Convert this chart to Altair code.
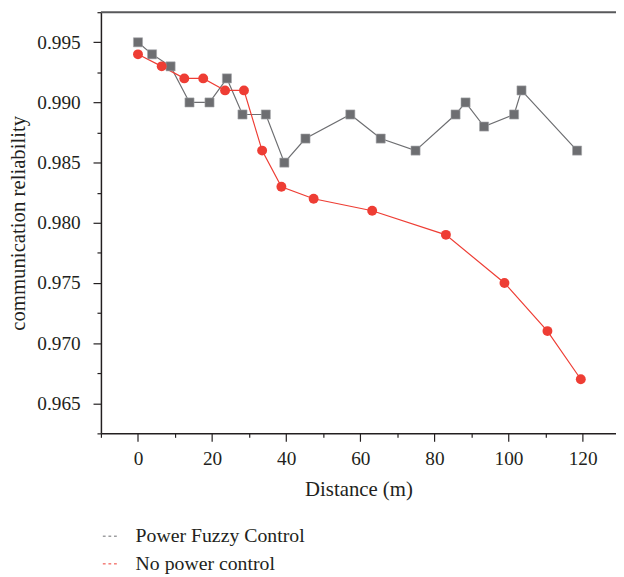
import altair as alt
import pandas as pd

# Power Fuzzy Control (gray squares)
fuzzy_x = [0, 3.8, 8.8, 13.9, 19.3, 24.0, 28.2, 34.5, 39.5, 45.2, 57.3, 65.5, 74.9, 85.7, 88.4, 93.4, 101.5, 103.5, 118.5]
fuzzy_y = [0.995, 0.994, 0.993, 0.990, 0.990, 0.992, 0.989, 0.989, 0.985, 0.987, 0.989, 0.987, 0.986, 0.989, 0.990, 0.988, 0.989, 0.991, 0.986]

# No power control (red circles)
nopc_x = [0, 6.4, 12.5, 17.6, 23.5, 28.6, 33.5, 38.7, 47.4, 63.2, 83.1, 98.9, 110.5, 119.5]
nopc_y = [0.994, 0.993, 0.992, 0.992, 0.991, 0.991, 0.986, 0.983, 0.982, 0.981, 0.979, 0.975, 0.971, 0.967]

series_names = ["Power Fuzzy Control", "No power control"]
series_colors = ["#6d6e71", "#ee3d34"]

x_ticks = [-10, 0, 10, 20, 30, 40, 50, 60, 70, 80, 90, 100, 110, 120]
y_ticks = [0.9625, 0.965, 0.9675, 0.97, 0.9725, 0.975, 0.9775, 0.98, 0.9825,
           0.985, 0.9875, 0.99, 0.9925, 0.995, 0.9975]
y_major = [0.965, 0.97, 0.975, 0.98, 0.985, 0.99, 0.995]

df_f = pd.DataFrame({"x": fuzzy_x, "y": fuzzy_y, "s": series_names[0]})
df_n = pd.DataFrame({"x": nopc_x, "y": nopc_y, "s": series_names[1]})
df_all = pd.concat([df_f, df_n], ignore_index=True)

FONT = "Liberation Serif"
AX = "#231f20"

ymajor_test = "indexof([" + ",".join(str(v) for v in y_major) + "], datum.value) >= 0"

xscale = alt.Scale(domain=[-10, 129], nice=False, zero=False)
yscale = alt.Scale(domain=[0.9625, 0.9975], nice=False, zero=False)

xenc = alt.X("x:Q", scale=xscale, title="Distance (m)",
             axis=alt.Axis(values=x_ticks, tickCount=30,
                           labelExpr="datum.value % 20 === 0 ? datum.label : ''",
                           tickSize={"condition": {"test": "datum.value % 20 === 0", "value": 8}, "value": 4},
                           labelPadding=9, titlePadding=10, grid=False))
yenc = alt.Y("y:Q", scale=yscale, title="communication reliability",
             axis=alt.Axis(values=y_ticks, tickCount=30,
                           labelExpr=ymajor_test + " ? format(datum.value, '.3f') : ''",
                           tickSize={"condition": {"test": ymajor_test, "value": 8}, "value": 4},
                           labelPadding=13, titlePadding=8, grid=False))

color = alt.Color("s:N", scale=alt.Scale(domain=series_names, range=series_colors),
                  sort=series_names,
                  legend=alt.Legend(title=None, orient="none", legendX=-1, legendY=520,
                                    direction="vertical",
                                    symbolType="M-1,0L-0.6,0M-0.2,0L0.2,0M0.6,0L1,0",
                                    symbolSize=200, symbolStrokeWidth=1,
                                    labelFont=FONT, labelFontSize=20, labelColor=AX,
                                    labelLimit=0,
                                    labelOffset=16, rowPadding=8, padding=0))

lines = alt.Chart(df_all).mark_line(strokeWidth=1.2).encode(
    x=xenc, y=yenc, color=color, detail="s:N")

sq = alt.Chart(df_f).mark_point(shape="square", filled=True, size=85, opacity=1,
                                color=series_colors[0], stroke="#a7a9ac", strokeWidth=0.6).encode(
    x="x:Q", y="y:Q")
ci = alt.Chart(df_n).mark_point(shape="circle", filled=True, size=100, opacity=1,
                                color=series_colors[1]).encode(
    x="x:Q", y="y:Q")

top = alt.Chart(pd.DataFrame({"a": [0]})).mark_rule(color="#58595b", strokeWidth=2).encode(
    x=alt.value(0), x2=alt.value("width"), y=alt.value(0))

chart = alt.layer(lines, sq, ci, top).properties(
    width=521, height=426,
    autosize=alt.AutoSizeParams(type="none"),
    padding={"left": 94, "top": 1, "right": 0, "bottom": 140},
).configure_view(stroke=None).configure_axis(
    domainColor=AX, domainWidth=1.5, tickColor=AX, tickWidth=1.2,
    labelFont=FONT, labelFontSize=19.5, labelColor=AX,
    titleFont=FONT, titleFontSize=21, titleColor=AX, titleFontWeight="normal",
)

chart.save("out.html", embed_options={"renderer": "svg", "actions": False})
